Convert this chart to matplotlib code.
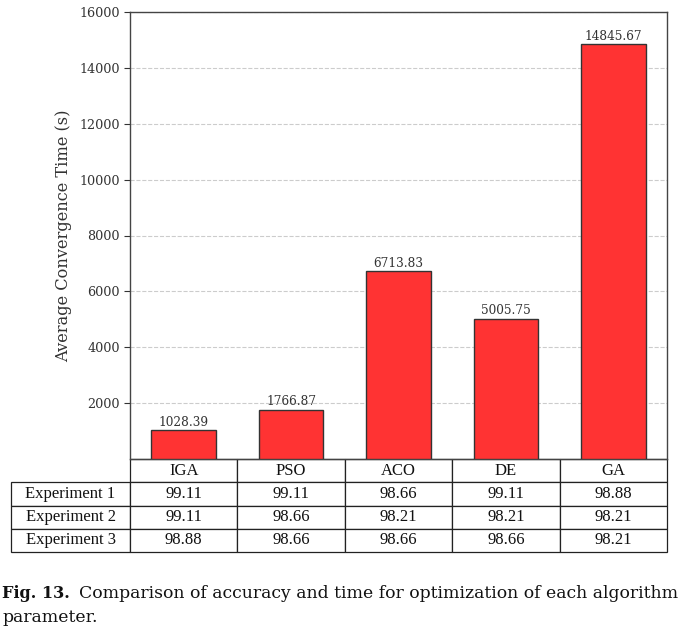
import matplotlib
matplotlib.use("Agg")
import matplotlib.pyplot as plt
from matplotlib.table import Table

algorithms = ["IGA", "PSO", "ACO", "DE", "GA"]
conv_time = [1028.39, 1766.87, 6713.83, 5005.75, 14845.67]
row_labels = ["Experiment 1", "Experiment 2", "Experiment 3"]
exp1 = ["99.11", "99.11", "98.66", "99.11", "98.88"]
exp2 = ["99.11", "98.66", "98.21", "98.21", "98.21"]
exp3 = ["98.88", "98.66", "98.66", "98.66", "98.21"]
y_ticks = [2000, 4000, 6000, 8000, 10000, 12000, 14000, 16000]
caption_1 = "Comparison of accuracy and time for optimization of each algorithm"
caption_2 = "parameter."

W, H = 687, 636
fig = plt.figure(figsize=(W / 100, H / 100), dpi=100)
ax = fig.add_axes([130 / W, 1 - 459 / H, 537 / W, 447 / H])

x = list(range(len(algorithms)))
ax.bar(x, conv_time, width=0.6, color="#ff3333", edgecolor="#333333",
       linewidth=1.0, zorder=3)
for xi, v in zip(x, conv_time):
    ax.text(xi, v + 60, f"{v:.2f}", ha="center", va="bottom",
            fontsize=8.7, family="DejaVu Serif", color="#333333")

ax.set_xlim(-0.5, len(algorithms) - 0.5)
ax.set_ylim(0, 16000)
ax.set_yticks(y_ticks)
ax.set_yticklabels([str(t) for t in y_ticks], family="DejaVu Serif",
                   fontsize=9.2, color="#333333")
ax.set_xticks([])
ax.tick_params(axis="y", length=4, color="#333333")
ax.yaxis.grid(True, linestyle="--", color="#cccccc", linewidth=0.8, zorder=0)
ax.set_axisbelow(True)
for s in ax.spines.values():
    s.set_color("#444444")
    s.set_linewidth(1.0)
ax.set_ylabel("Average Convergence Time (s)", family="DejaVu Serif",
              fontsize=11.7, color="#333333", labelpad=5)

# table below the axes (axes coordinates); grid part spans the axes width,
# row-label column extends to the left
tab_h = 93 / 447
row_h = tab_h / 4
col_w = 1 / len(algorithms)
lab_w = 119 / 537
tab = Table(ax, bbox=[0, -tab_h, 1, tab_h])
tab.auto_set_font_size(False)
tab.set_fontsize(12)
cell_rows = [exp1, exp2, exp3]
for c, name in enumerate(algorithms):
    tab.add_cell(0, c, width=col_w, height=row_h, text=name, loc="center")
for r, (lab, vals) in enumerate(zip(row_labels, cell_rows), start=1):
    tab.add_cell(r, -1, width=lab_w, height=row_h, text=lab, loc="center")
    for c, v in enumerate(vals):
        tab.add_cell(r, c, width=col_w, height=row_h, text=v, loc="center")
for (r, c), cell in tab.get_celld().items():
    cell.set_edgecolor("#222222")
    cell.set_linewidth(0.9)
    cell.get_text().set_fontsize(12)
    cell.get_text().set_family("Liberation Serif")
    cell.get_text().set_color("#111111")
ax.add_table(tab)

# caption, sized to span the same width as in the reference
cap_fs = 13.5
t0 = fig.text(2 / W, 1 - 593 / H, "Fig. 13.", family="DejaVu Serif",
              fontweight="bold", fontsize=cap_fs, va="center", ha="left",
              color="#111111")
t1 = fig.text(79 / W, 1 - 593 / H, caption_1, family="DejaVu Serif",
              fontsize=cap_fs, va="center", ha="left", color="#111111")
t2 = fig.text(2 / W, 1 - 617 / H, caption_2, family="DejaVu Serif",
              fontsize=cap_fs, va="center", ha="left", color="#111111")
r = fig.canvas.get_renderer()
w1 = t1.get_window_extent(r).width
fs = cap_fs * 596 / w1
for t in (t1, t2):
    t.set_fontsize(fs)
w0 = t0.get_window_extent(r).width
t0.set_fontsize(cap_fs * 68 / w0)

fig.savefig("out.png", dpi=100)
